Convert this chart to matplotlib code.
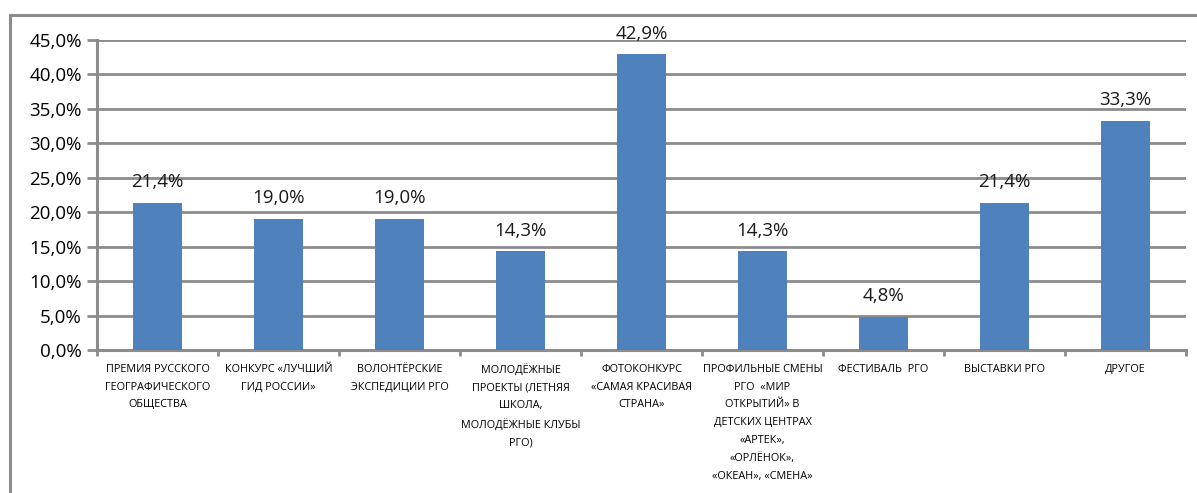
import numpy as np
from matplotlib import pyplot as plt
from matplotlib.patches import Rectangle
from matplotlib.ticker import FuncFormatter

categories = [
    'Премия Русского\nгеографического\nобщества',
    'конкурс «Лучший\nгид России»',
    'волонтёрские\nэкспедиции РГО',
    'молодёжные\nпроекты (Летняя\nшкола,\nМолодёжные клубы\nРГО)',
    'фотоконкурс\n«Самая красивая\nстрана»',
    'профильные смены\nРГО  «Мир\nоткрытий» в\nдетских центрах\n«Артек»,\n«Орлёнок»,\n«Океан», «Смена»',
    'Фестиваль  РГО',
    'выставки РГО',
    'другое',
]
values = [21.4, 19.0, 19.0, 14.3, 42.9, 14.3, 4.8, 21.4, 33.3]

grey = '#8c8c8c'
blue = '#4f81bd'

plt.rcParams['font.family'] = ['Open Sans', 'DejaVu Sans']

fig = plt.figure(figsize=(11.97, 4.93), dpi=100)
ax = fig.add_axes([97 / 1197, 1 - 350 / 493, (1186 - 97) / 1197, (350 - 40) / 493])

# outer chart frame (runs off the right and bottom of the image)
fig.patches.append(Rectangle((10 / 1197, -0.1), 1.2, 1 - 15 / 493 + 0.1,
                             transform=fig.transFigure, fill=False,
                             edgecolor=grey, linewidth=2.2))

x = np.arange(len(categories))
ax.bar(x, values, width=0.4, color=blue, zorder=3)
for xi, v in zip(x, values):
    ax.text(xi, v + 1.7, f'{v:.1f}%'.replace('.', ','), ha='center', va='bottom',
            fontsize=13.5, color='#1a1a1a')

ax.set_xlim(-0.5, len(categories) - 0.5)
ax.set_ylim(0, 45)
ax.set_yticks(np.arange(0, 46, 5))
ax.yaxis.set_major_formatter(FuncFormatter(lambda v, p: f'{v:.1f}%'.replace('.', ',')))
ax.tick_params(axis='y', labelsize=13.5, length=7, width=2, color=grey, pad=4)
ax.grid(axis='y', color=grey, linewidth=2, zorder=0)

ax.set_xticks(np.arange(len(categories) + 1) - 0.5)
ax.set_xticklabels([])
ax.tick_params(axis='x', length=4, width=2, color=grey)
ax.set_xticks(x, minor=True)
ax.set_xticklabels([c.upper() for c in categories], minor=True, fontsize=7.8,
                   linespacing=1.85, va='top')
ax.tick_params(axis='x', which='minor', length=0, pad=10)

for s in ['top', 'right']:
    ax.spines[s].set_visible(False)
for s in ['left', 'bottom']:
    ax.spines[s].set_color(grey)
    ax.spines[s].set_linewidth(2.2)

plt.savefig('out.png')
